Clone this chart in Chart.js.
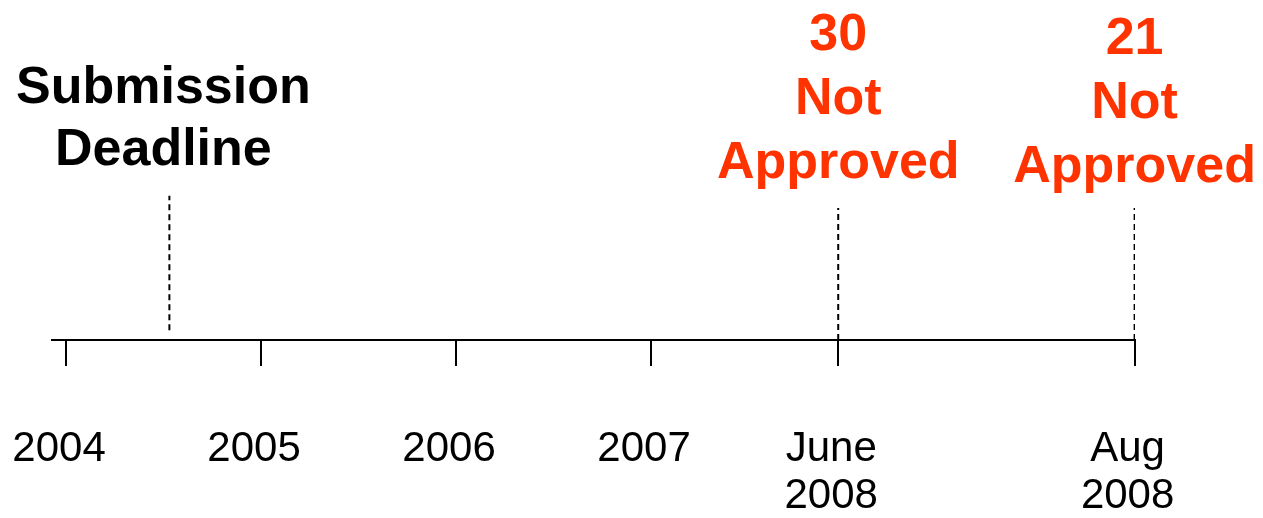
<!DOCTYPE html>
<html lang="en">
<head>
    <meta charset="UTF-8">
    <title>Submission timeline</title>
    <script src="https://cdn.jsdelivr.net/npm/chart.js"></script>
    <style>
        * {
            padding: 0;
            margin: 0;
            box-sizing: border-box;
        }

        body {
            background: #ffffff;
        }

        .chart-container {
            width: 1263px;
            height: 518px;
        }
    </style>
</head>

<body>
    <div class="chart-container">
        <canvas id="timeline"></canvas>
    </div>

    <script>
        // timeline ticks (positions read off the axis, not to time scale)
        const tickPos = [0, 1, 2, 3, 3.96, 5.48];
        const tickLabels = ['2004', '2005', '2006', '2007', ['June', '2008'], ['Aug', '2008']];

        // events with a dashed marker
        const eventPos = [0.53, 3.96, 5.48];
        const eventLines = [['Submission', 'Deadline'], ['30', 'Not', 'Approved'], ['21', 'Not', 'Approved']];
        const eventTop = [4.24, 3.88, 3.88];
        const eventBottom = [0.29, 0, 0];

        // styling for the event captions
        const eventColors = ['#000000', '#ff3300', '#ff3300'];
        const captionBase = [5.14, 4.76, 4.65];
        const captionStep = [62, 64, 64];
        const captionShift = [-6, 0, 0];

        const FONT = "'Liberation Sans', Arial, sans-serif";

        const datasets = eventPos.map((x, i) => ({
            type: 'line',
            data: [{ x: x, y: eventBottom[i] }, { x: x, y: eventTop[i] }],
            borderColor: '#000000',
            borderWidth: 2,
            borderDash: [6, 4],
            pointRadius: 0,
            fill: false
        }));

        const captions = {
            id: 'captions',
            afterDatasetsDraw(chart) {
                const ctx = chart.ctx;
                const xs = chart.scales.x;
                const ys = chart.scales.y;
                ctx.save();
                ctx.font = 'bold 52px ' + FONT;
                ctx.textAlign = 'center';
                ctx.textBaseline = 'alphabetic';
                eventLines.forEach((lines, i) => {
                    const x = xs.getPixelForValue(eventPos[i]) + captionShift[i];
                    const base = ys.getPixelForValue(captionBase[i]);
                    ctx.fillStyle = eventColors[i];
                    lines.forEach((t, j) => {
                        ctx.fillText(t, x, base - (lines.length - 1 - j) * captionStep[i]);
                    });
                });
                ctx.restore();
            }
        };

        new Chart(document.getElementById('timeline'), {
            type: 'line',
            data: { datasets: datasets },
            plugins: [captions],
            options: {
                responsive: true,
                maintainAspectRatio: false,
                animation: false,
                layout: { padding: { left: 52, right: 128, top: 0, bottom: 0 } },
                plugins: {
                    legend: { display: false },
                    tooltip: { enabled: false }
                },
                scales: {
                    x: {
                        type: 'linear',
                        min: -0.072,
                        max: 5.482,
                        afterBuildTicks: s => { s.ticks = tickPos.map(v => ({ value: v })); },
                        afterFit: s => {
                            s.paddingLeft = 0;
                            s.paddingRight = 0;
                            s.height = 178;
                        },
                        border: { display: true, color: '#000000', width: 2 },
                        grid: {
                            display: true,
                            drawOnChartArea: false,
                            drawTicks: true,
                            tickLength: 26,
                            color: '#000000',
                            lineWidth: 2
                        },
                        ticks: {
                            autoSkip: false,
                            maxRotation: 0,
                            padding: 60,
                            labelOffset: -7,
                            color: '#000000',
                            font: { family: FONT, size: 42, lineHeight: 1.12 },
                            callback: (v, i) => tickLabels[i]
                        }
                    },
                    y: {
                        display: false,
                        min: 0,
                        max: 10
                    }
                }
            }
        });
    </script>
</body>
</html>
